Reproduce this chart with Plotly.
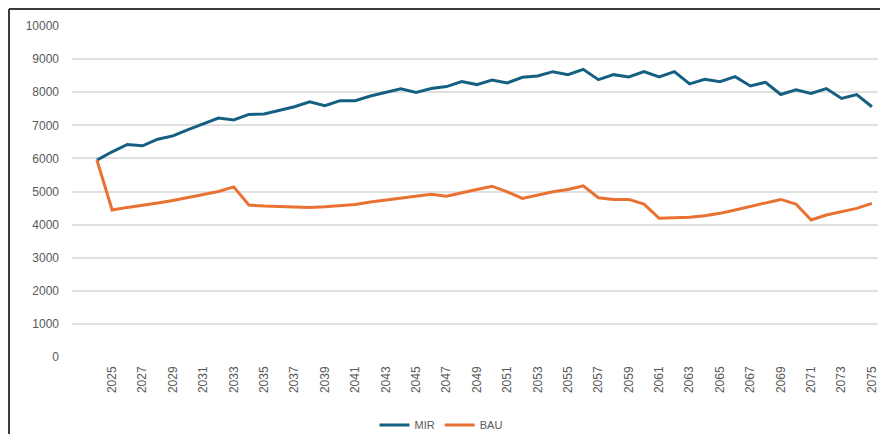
import plotly.graph_objects as go

years = list(range(2024, 2076))
mir = [5950, 6200, 6420, 6380, 6580, 6680, 6870, 7050, 7220, 7160,
       7330, 7340, 7450, 7560, 7710, 7590, 7745, 7745, 7885, 7990,
       8100, 7990, 8110, 8170, 8320, 8230, 8370, 8280, 8450, 8490,
       8620, 8530, 8690, 8380, 8530, 8460, 8620, 8460, 8620, 8250,
       8390, 8320, 8470, 8190, 8300, 7930, 8070, 7960, 8110, 7810,
       7930, 7560]
bau = [5950, 4440, 4520, 4580, 4650, 4730, 4820, 4910, 5000, 5140,
       4590, 4560, 4540, 4520, 4520, 4540, 4570, 4610, 4680, 4740,
       4800, 4860, 4920, 4860, 4970, 5060, 5160, 4990, 4790, 4890,
       4990, 5060, 5170, 4810, 4760, 4760, 4620, 4190, 4200, 4220,
       4270, 4340, 4440, 4540, 4640, 4760, 4620, 4140, 4290, 4390,
       4490, 4640]
tick_years = list(range(2025, 2076, 2))
y_ticks = list(range(0, 10001, 1000))

fig = go.Figure()
fig.add_trace(go.Scatter(x=years, y=mir, mode="lines", name="MIR",
                         line=dict(color="#156082", width=3)))
fig.add_trace(go.Scatter(x=years, y=bau, mode="lines", name="BAU",
                         line=dict(color="#E97132", width=3)))

# page body has an 8px margin; work in page pixels and subtract it
OFF = 8
W, H = 888 - OFF, 434 - OFF
L, R, T, B = 72 - OFF, 10, 26 - OFF, 434 - 357
pw, ph = W - L - R, H - T - B

def px_x(px):
    return (px - OFF - L) / pw

def px_y(py):
    return (H - B - (py - OFF)) / ph

border = dict(color="#3a3a3a", width=2)
shapes = [
    dict(type="line", xref="paper", yref="paper", x0=px_x(9), x1=px_x(900),
         y0=px_y(9), y1=px_y(9), line=border),
    dict(type="line", xref="paper", yref="paper", x0=px_x(9), x1=px_x(9),
         y0=px_y(9), y1=px_y(450), line=border),
]

fig.update_layout(
    width=W, height=H,
    margin=dict(l=L, r=R, t=T, b=B, pad=0, autoexpand=False),
    paper_bgcolor="white", plot_bgcolor="white",
    font=dict(family="Liberation Sans, Arial, sans-serif", color="#595959", size=12),
    showlegend=True,
    legend=dict(orientation="h", xref="container", yref="container",
                x=(441 - OFF) / W, xanchor="center",
                y=(H - (425 - OFF)) / H, yanchor="middle",
                font=dict(size=11, color="#595959"), itemwidth=30,
                tracegroupgap=0),
    shapes=shapes,
    xaxis=dict(range=[2022.36, 2075.4], tickmode="array", tickvals=tick_years,
               ticktext=[str(y) for y in tick_years], tickangle=-90,
               showgrid=False, zeroline=False, showline=False, ticks="",
               ticklabelstandoff=6, tickfont=dict(size=12, color="#595959")),
    yaxis=dict(range=[0, 10000], tickmode="array", tickvals=y_ticks,
               ticktext=[str(v) for v in y_ticks],
               showgrid=True, gridcolor="#e0e0e0", gridwidth=1.5,
               zeroline=False, showline=False, ticks="",
               ticklabelstandoff=12, tickfont=dict(size=12, color="#595959")),
)

fig.write_html("out.html")
